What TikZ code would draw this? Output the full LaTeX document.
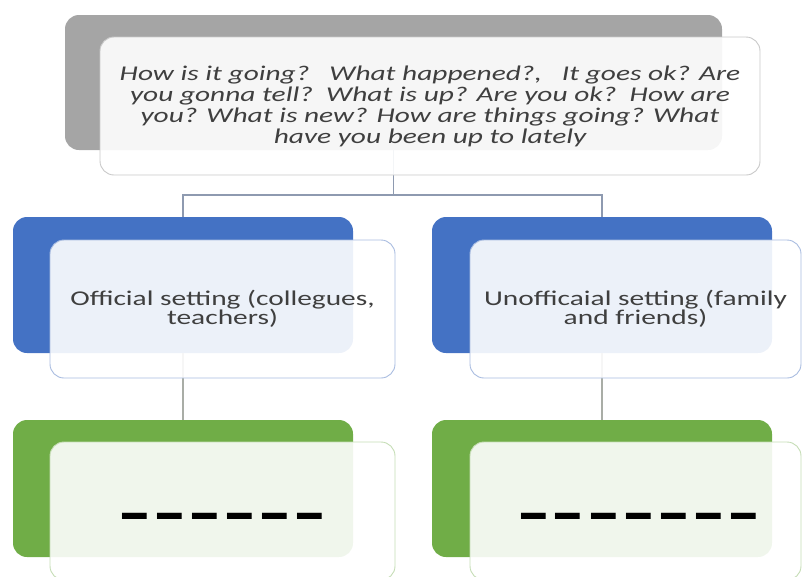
\documentclass[tikz,border=0pt]{standalone}
\usepackage{fontspec}
\setmainfont{Carlito}
\newfontfamily\stretchfont[FakeStretch=1.4]{Carlito}
\newfontfamily\dashfont[FakeStretch=1.67,LetterSpace=7.3]{Carlito}
\definecolor{backgray}{HTML}{A5A5A5}
\definecolor{backblue}{HTML}{4472C4}
\definecolor{backgreen}{HTML}{70AD47}
\definecolor{edgegray}{HTML}{C9C9C9}
\definecolor{edgeblue}{HTML}{A9BCE0}
\definecolor{edgegreen}{HTML}{C5DDB5}
\definecolor{conngray}{HTML}{8E9AB0}
\definecolor{connlow}{HTML}{A9ADA6}
\definecolor{txt}{HTML}{3F3F3F}
\tikzset{
  backbox/.style={rounded corners=14pt, inner sep=0pt, outer sep=0pt, draw=none, fill=#1},
  frontbox/.style={rounded corners=14pt, inner sep=0pt, outer sep=0pt, draw=#1, line width=0.9pt,
    fill=white, fill opacity=0.9, text opacity=1, text=txt, align=center},
  conn/.style={draw=#1, line width=1.3pt},
  toptext/.style={font=\stretchfont\itshape\fontsize{21}{21}\selectfont},
  midtext/.style={font=\stretchfont\fontsize{21}{19.5}\selectfont},
  dashtext/.style={font=\dashfont\bfseries\fontsize{60}{60}\selectfont, text=black, inner sep=0pt}
}
\begin{document}
\begin{tikzpicture}[x=1pt,y=-1pt]
\useasboundingbox (0,0) rectangle (802,576);
\clip (0,0) rectangle (802,576);
% back shapes
\node[backbox=backgray, minimum width=657pt, minimum height=135pt] (gb) at (393.5,82.5) {};
\node[backbox=backblue, minimum width=340pt, minimum height=136pt] (lbb) at (183,285) {};
\node[backbox=backblue, minimum width=340pt, minimum height=136pt] (rbb) at (602,285) {};
\node[backbox=backgreen, minimum width=340pt, minimum height=137pt] (lgb) at (183,488.5) {};
\node[backbox=backgreen, minimum width=340pt, minimum height=137pt] (rgb) at (602,488.5) {};
% connectors
\coordinate (j) at (393.5,195);
\draw[conn=conngray] (gb.south) -- (j);
\draw[conn=conngray] (lbb.north) |- (j) -| (rbb.north);
\draw[conn=connlow] (lbb.south) -- (lgb.north);
\draw[conn=connlow] (rbb.south) -- (rgb.north);
% front shapes
\node[frontbox=edgegray, minimum width=660pt, minimum height=138pt, toptext] (tf) at (430,106)
  {How is it going?\ \ \ What happened?,\ \ \ It goes ok? Are\\
   you gonna tell?\ \ What is up? Are you ok?\ \ How are\\
   you? What is new? How are things going? What\\
   have you been up to lately};
\node[frontbox=edgeblue, minimum width=345pt, minimum height=138pt, midtext] (lf) at (222.5,309)
  {Official setting (collegues,\\ teachers)};
\node[frontbox=edgeblue, minimum width=331pt, minimum height=138pt, midtext] (rf) at (635.5,309)
  {Unofficaial setting (family\\ and friends)};
\node[frontbox=edgegreen, minimum width=345pt, minimum height=138pt] (lgf) at (222.5,511) {};
\node[frontbox=edgegreen, minimum width=331pt, minimum height=138pt] (rgf) at (635.5,511) {};
\node[dashtext] (ld) at ([yshift=-12pt]lgf.center) {------};
\node[dashtext] (rd) at ([yshift=-12pt,xshift=3pt]rgf.center) {-------};
\end{tikzpicture}
\end{document}
